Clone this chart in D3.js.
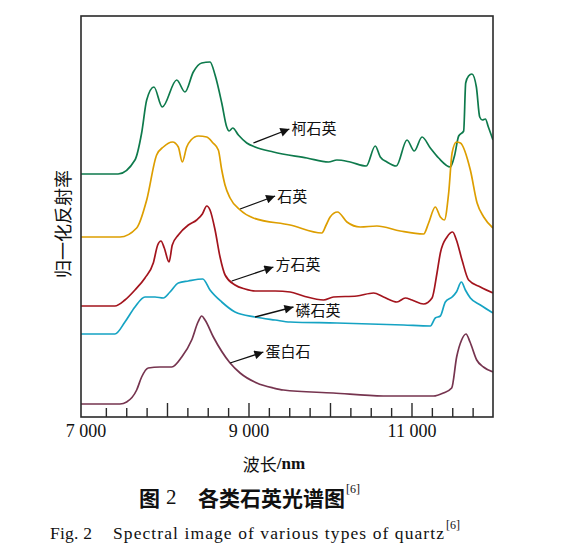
<!DOCTYPE html>
<html><head><meta charset="utf-8">
<script src="https://cdn.jsdelivr.net/npm/d3@7"></script>
<style>body{margin:0;background:#fff}svg{display:block}</style>
</head><body>
<svg id="c" width="566" height="547"></svg>
<script>
// ---- data (wavelength nm, normalized reflectance, arbitrary units) ----
const coesiteNm   = [6945,7400,7607,7689,7751,7840,7942,8119,8221,8323,8426,8528,8590,8672,8733,8762,8807,8876,8979,9081,9306,9716,9982,10085,10248,10445,10555,10617,10699,10813,10945,11034,11129,11231,11333,11477,11530,11579,11640,11665,11700,11741,11796,11837,11870,11906,11943,12000];
const coesiteVal  = [243,243,257,284,317,330,310,337,325,345,354,355,342,314,290,286,289,282,274,270,265,259,255,257,255,251,271,260,255,251,277,266,280,269,259,250,262,281,286,334,341,343,330,300,297,298,290,277];
const quartzNm    = [6945,7423,7628,7751,7873,7955,8068,8139,8188,8242,8295,8385,8488,8565,8630,8672,8712,8774,8897,9060,9511,9900,9953,10002,10092,10208,10371,10576,10862,11149,11210,11292,11354,11403,11456,11498,11551,11600,11722,11805,11886,12000];
const quartzVal   = [180,180,189,217,262,270,275,270,255,270,277,281,280,274,267,247,232,219,207,199,192,184,192,200,205,195,190,191,186,183,194,210,200,197,224,264,275,274,247,214,200,189];
const cristNm     = [6945,7361,7484,7607,7730,7832,7886,7926,7967,8025,8065,8139,8262,8365,8434,8488,8528,8590,8651,8713,8835,8958,9081,9327,9511,9674,9920,10043,10330,10534,10657,10822,10924,11006,11149,11252,11313,11354,11436,11505,11551,11620,11701,11845,12000];
const cristVal    = [111,111,117,127,139,154,172,176,169,155,172,182,192,197,203,211,207,187,160,142,132,128,126,126,125,121,117,120,121,124,120,115,119,117,113,119,144,164,180,185,177,157,137,130,124];
const tridyNm     = [6945,7361,7484,7607,7730,7853,7955,8037,8139,8262,8439,8528,8672,8835,9081,9327,9511,10085,10903,11231,11292,11354,11415,11498,11551,11612,11661,11722,11845,12000];
const tridyVal    = [83,83,95,110,120,120,119,125,134,136,138,127,115,105,100,97,95,94,92,91,99,101,115,120,125,135,127,119,112,104];
const opalNm      = [6945,7423,7505,7628,7689,7770,7914,8058,8181,8303,8381,8426,8467,8569,8774,8897,9102,9306,9429,10039,10654,11268,11391,11493,11554,11615,11669,11718,11800,11882,12000];
const opalVal     = [13,13,15,27,40,49,50,50,60,77,95,101,97,80,54,44,34,29,27,24,21,21,24,29,60,77,83,75,57,50,45];

const seriesNames  = ["柯石英","石英","方石英","磷石英","蛋白石"];
const seriesColors = ["#0e7a4c","#dd9e00","#a3141d","#15a3c3","#76344f"];
// annotation arrows: tail (nm,val) -> head (nm,val)
const arrowTailNm  = [9060,8897,8795,9081,8774];
const arrowTailVal = [274,208,136,100,54];
const arrowHeadNm  = [9502,9327,9306,9552,9183];
const arrowHeadVal = [288,221,150,110,65];
const labelOffsetVal = [290,222,154,108,67];

const xTicksMinor  = d3.range(7250,12000,250).filter(v=>v%1000!==0);
const xTicksMajor  = [8000,9000,10000,11000];
const xTickLabels  = [7000,9000,11000];

// ---- drawing ----
const svg = d3.select("#c");
const L=81,R=493,T=16,B=417;
const x = d3.scaleLinear().domain([6945,12000]).range([L,R]);
const y = d3.scaleLinear().domain([0,401]).range([B,T]);

svg.append("defs").append("clipPath").attr("id","clip")
  .append("rect").attr("x",L).attr("y",T).attr("width",R-L).attr("height",B-T);
const mk = svg.select("defs").append("marker").attr("id","ah")
  .attr("viewBox","0 0 10 10").attr("refX",10).attr("refY",5)
  .attr("markerWidth",11).attr("markerHeight",9).attr("markerUnits","userSpaceOnUse")
  .attr("orient","auto");
mk.append("path").attr("d","M0,0L10,5L0,10z").attr("fill","#111");

const series = [[coesiteNm,coesiteVal],[quartzNm,quartzVal],[cristNm,cristVal],[tridyNm,tridyVal],[opalNm,opalVal]];
const line = d3.line().x(d=>x(d[0])).y(d=>y(d[1])).curve(d3.curveMonotoneX);
const g = svg.append("g").attr("clip-path","url(#clip)");
series.forEach((s,i)=>{
  const pts = s[0].map((n,j)=>[n,s[1][j]]);
  g.append("path").datum(pts).attr("d",line).attr("fill","none")
    .attr("stroke",seriesColors[i]).attr("stroke-width",1.7).attr("stroke-linejoin","round");
});

// frame
svg.append("rect").attr("x",L).attr("y",T).attr("width",R-L).attr("height",B-T)
  .attr("fill","none").attr("stroke","#2a2a2a").attr("stroke-width",1.6);

const fmt = d3.formatLocale({decimal:".",thousands:" ",grouping:[3],currency:["",""]}).format(",");
const axMinor = d3.axisBottom(x).tickValues(xTicksMinor).tickSizeInner(-9).tickSizeOuter(0).tickFormat("");
const axMajor = d3.axisBottom(x).tickValues(xTicksMajor).tickSizeInner(-14).tickSizeOuter(0).tickFormat("");
const axLab = d3.axisBottom(x).tickValues(xTickLabels).tickSizeInner(0).tickSizeOuter(0).tickPadding(7).tickFormat(fmt);
[axMinor,axMajor,axLab].forEach(a=>{
  const ga = svg.append("g").attr("transform",`translate(0,${B})`).call(a);
  ga.select(".domain").remove();
  ga.selectAll("line").attr("stroke","#2a2a2a").attr("stroke-width",1.4);
  ga.selectAll("text").attr("font-family","'Liberation Serif','Times New Roman',serif").attr("font-size",18).attr("fill","#111");
});

// annotations
seriesNames.forEach((n,i)=>{
  svg.append("line").attr("x1",x(arrowTailNm[i])).attr("y1",y(arrowTailVal[i]))
    .attr("x2",x(arrowHeadNm[i])).attr("y2",y(arrowHeadVal[i]))
    .attr("stroke","#111").attr("stroke-width",1.3).attr("marker-end","url(#ah)");
  svg.append("text").attr("x",x(arrowHeadNm[i])+2).attr("y",y(labelOffsetVal[i]))
    .attr("dominant-baseline","central").attr("font-family","'Noto Sans CJK SC',sans-serif")
    .attr("font-size",15).attr("fill","#111").text(n);
});

// axis titles
svg.append("text").attr("transform","translate(62,224) rotate(-90)").attr("text-anchor","middle")
  .attr("dominant-baseline","central").attr("font-family","'Noto Sans CJK SC',sans-serif")
  .attr("font-size",18).attr("fill","#111").text("归一化反射率");
const xt = svg.append("text").attr("x",274).attr("y",463).attr("text-anchor","middle")
  .attr("dominant-baseline","central").attr("font-size",17).attr("fill","#111");
xt.append("tspan").attr("font-family","'Noto Sans CJK SC',sans-serif").text("波长");
xt.append("tspan").attr("font-family","'Liberation Serif',serif").attr("font-weight","bold").text("/nm");

// captions
const c1 = svg.append("text").attr("y",497).attr("dominant-baseline","central")
  .attr("font-family","'Noto Sans CJK SC',sans-serif").attr("font-weight","bold").attr("font-size",21).attr("fill","#111");
c1.append("tspan").attr("x",139).text("图");
c1.append("tspan").attr("x",166).attr("font-family","'Liberation Serif',serif").attr("font-weight","normal").text("2");
c1.append("tspan").attr("x",198).text("各类石英光谱图");
c1.append("tspan").attr("x",346).attr("dy",-8).attr("font-size",12).attr("font-weight","normal").attr("font-family","'Liberation Serif',serif").text("[6]");
const c2 = svg.append("text").attr("y",533).attr("dominant-baseline","central")
  .attr("font-family","'Liberation Serif',serif").attr("font-size",17.5).attr("fill","#111");
c2.append("tspan").attr("x",50).attr("textLength",42).attr("lengthAdjust","spacing").text("Fig. 2");
c2.append("tspan").attr("x",113).attr("textLength",331).attr("lengthAdjust","spacing").text("Spectral image of various types of quartz");
c2.append("tspan").attr("x",446).attr("dy",-8).attr("font-size",12).text("[6]");
</script>
</body></html>
